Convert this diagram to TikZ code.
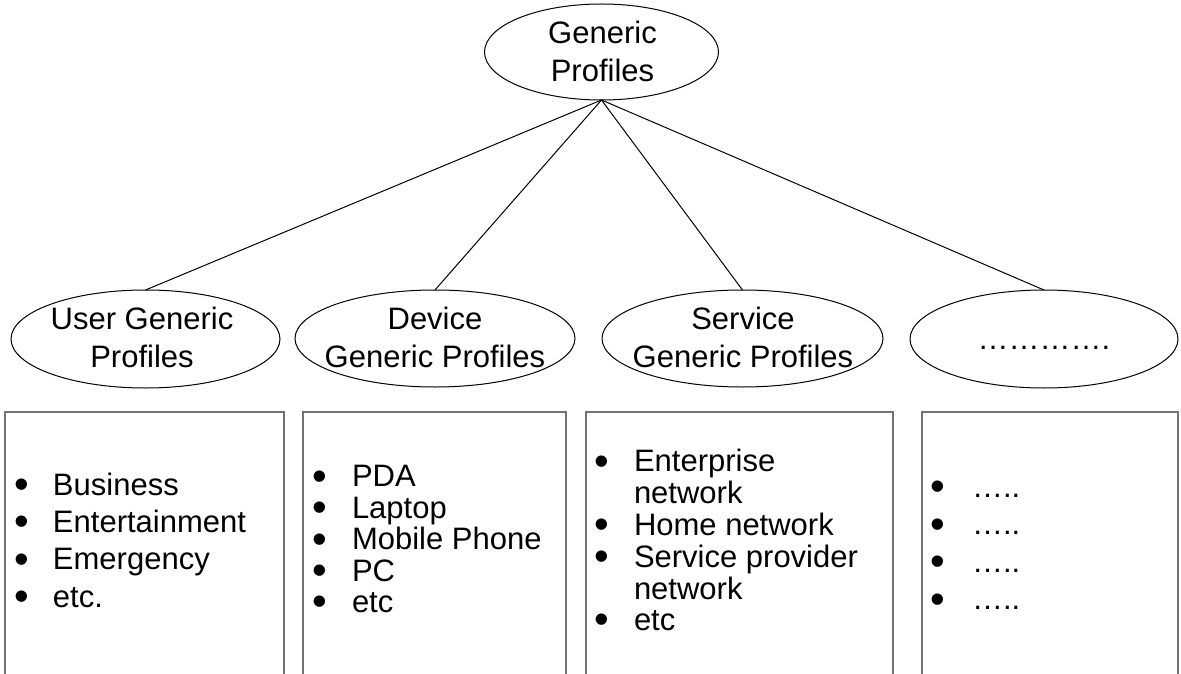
\documentclass[tikz,border=0pt]{standalone}
\usepackage{fontspec}
\setmainfont{Liberation Sans}
\usetikzlibrary{shapes.geometric}
\newcommand\bul{\smash{\raisebox{-3.5pt}{\scalebox{1.35}{\textbullet}}}}
\begin{document}
\begin{tikzpicture}[x=1pt,y=-1pt,
  ell/.style={draw=black, line width=1pt, ellipse, inner sep=0pt, outer sep=0pt},
  lbl/.style={inner sep=0pt, outer sep=0pt, anchor=base, font=\fontsize{31}{38}\selectfont},
  lst/.style={inner sep=0pt, outer sep=0pt, anchor=base west},
  boxline/.style={draw=black!55, line width=1.5pt},
  conn/.style={draw=black, line width=1pt}]
\useasboundingbox[fill=white] (0,0) rectangle (1181,674);

% ellipses
\node[ell, minimum width=234pt, minimum height=96pt] (top) at (601.5,52) {};
\node[ell, minimum width=269pt, minimum height=98pt] (e1) at (145.5,339) {};
\node[ell, minimum width=280pt, minimum height=97pt] (e2) at (435,338.5) {};
\node[ell, minimum width=281pt, minimum height=97pt] (e3) at (742.5,338.5) {};
\node[ell, minimum width=268pt, minimum height=98pt] (e4) at (1044,339) {};

% ellipse labels
\node[lbl] (ttop) at (602.5,44) {\begin{tabular}[t]{@{}c@{}}Generic\\Profiles\end{tabular}};
\node[lbl] (t1) at (142,329) {\begin{tabular}[t]{@{}c@{}}User Generic\\Profiles\end{tabular}};
\node[lbl] (t2) at (435,329.5) {\begin{tabular}[t]{@{}c@{}}Device\\Generic Profiles\end{tabular}};
\node[lbl] (t3) at (743,329.5) {\begin{tabular}[t]{@{}c@{}}Service\\Generic Profiles\end{tabular}};
\node[lbl] (t4) at (1044,349) {………….};

% connectors
\draw[conn] (top.south) -- (e1.north);
\draw[conn] (top.south) -- (e2.north);
\draw[conn] (top.south) -- (e3.north);
\draw[conn] (top.south) -- (e4.north);

% boxes (open at the bottom edge of the picture)
\draw[boxline] (5,690) -- (5,412) -- (284,412) -- (284,690);
\draw[boxline] (303,690) -- (303,412) -- (566,412) -- (566,690);
\draw[boxline] (586,690) -- (586,412) -- (893,412) -- (893,690);
\draw[boxline] (922,690) -- (922,412) -- (1178,412) -- (1178,690);

% lists
\node[lst, font=\fontsize{31}{37.4}\selectfont] (l1) at (14,495)
  {\begin{tabular}[t]{@{}p{39pt}@{}l@{}}\bul&Business\\\bul&Entertainment\\\bul&Emergency\\\bul&etc.\end{tabular}};
\node[lst, font=\fontsize{31}{31.3}\selectfont] (l2) at (312,486.7)
  {\begin{tabular}[t]{@{}p{40pt}@{}l@{}}\bul&PDA\\\bul&Laptop\\\bul&Mobile Phone\\\bul&PC\\\bul&etc\end{tabular}};
\node[lst, font=\fontsize{31}{31.3}\selectfont] (l3) at (594,471.7)
  {\begin{tabular}[t]{@{}p{40pt}@{}l@{}}\bul&Enterprise\\&network\\\bul&Home network\\\bul&Service provider\\&network\\\bul&etc\end{tabular}};
\node[lst, font=\fontsize{31}{37.6}\selectfont] (l4) at (930,497)
  {\begin{tabular}[t]{@{}p{42pt}@{}l@{}}\bul&…..\\\bul&…..\\\bul&…..\\\bul&…..\end{tabular}};
\end{tikzpicture}
\end{document}
